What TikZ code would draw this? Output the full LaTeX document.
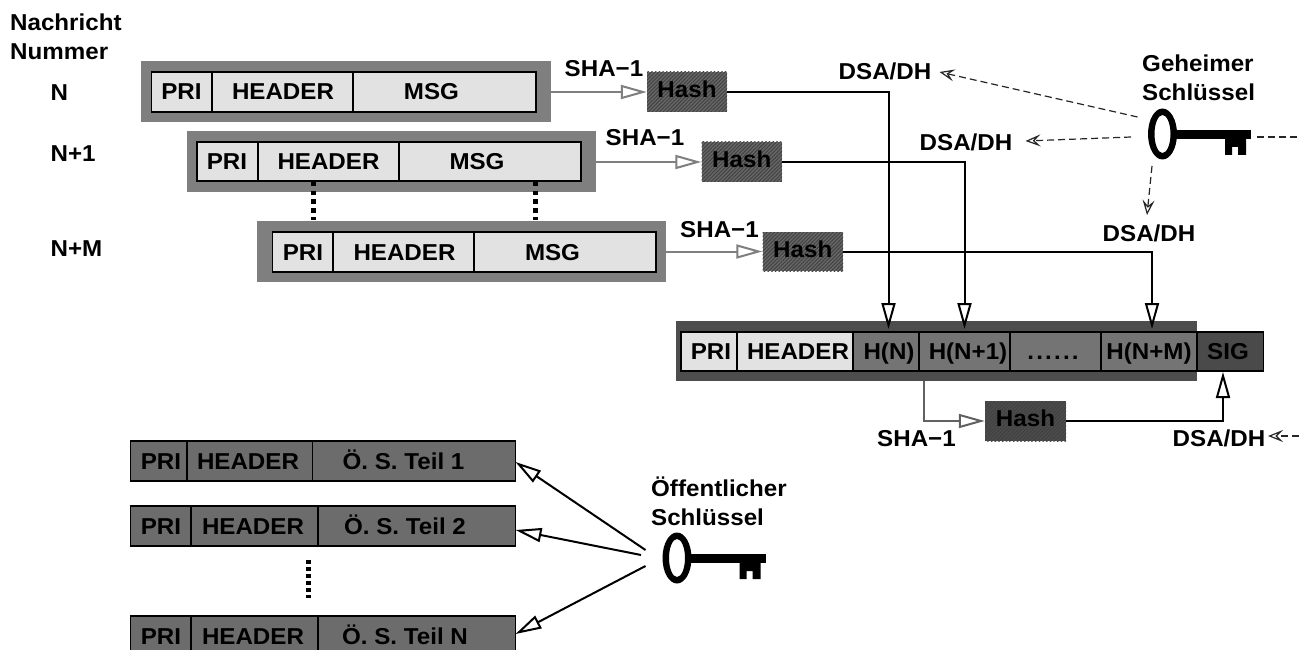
\documentclass[tikz,border=0pt]{standalone}
\usepackage{fontspec}
\setmainfont[FakeStretch=1.05]{Liberation Sans}
\usetikzlibrary{arrows.meta,patterns.meta}
\definecolor{lightcell}{HTML}{E2E2E2}
\definecolor{frameA}{HTML}{7F7F7F}
\definecolor{frameB}{HTML}{4D4D4D}
\definecolor{midcell}{HTML}{747474}
\definecolor{sigcell}{HTML}{4A4A4A}
\definecolor{pubcell}{HTML}{6C6C6C}
\tikzset{
  frame/.style={draw=none,inner sep=0pt},
  cellbox/.style={draw=black,line width=1.8pt,inner sep=0pt},
  txt/.style={inner sep=0pt,font=\fontsize{23}{23}\selectfont\bfseries,text=black},
  grayline/.style={draw=frameA,line width=2pt,-{Triangle[length=26pt,width=14pt,fill=white]}},
  grayline2/.style={draw=black!62,line width=2pt,-{Triangle[length=26pt,width=14pt,fill=white]}},
  blackline/.style={draw=black,line width=2pt,-{Triangle[length=26pt,width=14pt,fill=white]}},
  dashline/.style={draw=black!85,line width=1.2pt,dash pattern=on 7pt off 4pt,-{Stealth[length=15pt,width=12pt,inset=6pt,fill=white]}},
  dashplain/.style={draw=black!85,line width=1.2pt,dash pattern=on 7pt off 4pt},
  dotline/.style={draw=black,line width=5pt,dash pattern=on 4.5pt off 4.2pt},
  dotline2/.style={draw=black,line width=5pt,dash pattern=on 4pt off 3pt},
  hashbox/.style={draw=none,inner sep=0pt,fill=#1,postaction={pattern={Lines[angle=45,distance=2.6pt,line width=.9pt]},pattern color=black!75}},
}
% name, x1, x2, y1, y2, fill, text x, text
\newcommand{\cellnode}[8]{%
  \pgfmathsetmacro{\cw}{#3-#2}\pgfmathsetmacro{\ch}{#5-#4}%
  \pgfmathsetmacro{\cx}{(#2+#3)/2}\pgfmathsetmacro{\cy}{(#4+#5)/2}%
  \pgfmathsetmacro{\cb}{\cy+8}%
  \node[cellbox,fill=#6,minimum width=\cw pt,minimum height=\ch pt] (#1) at (\cx,\cy) {};
  \node[txt,anchor=base] (#1-t) at (#7,\cb) {#8};
}
\newcommand{\framenode}[6]{%
  \pgfmathsetmacro{\cw}{#3-#2}\pgfmathsetmacro{\ch}{#5-#4}%
  \pgfmathsetmacro{\cx}{(#2+#3)/2}\pgfmathsetmacro{\cy}{(#4+#5)/2}%
  \node[frame,fill=#6,minimum width=\cw pt,minimum height=\ch pt] (#1) at (\cx,\cy) {};
}
\newcommand{\hashnode}[6]{%
  \pgfmathsetmacro{\cw}{#3-#2}\pgfmathsetmacro{\ch}{#5-#4}%
  \pgfmathsetmacro{\cx}{(#2+#3)/2}\pgfmathsetmacro{\cy}{(#4+#5)/2}%
  \node[hashbox=#6,minimum width=\cw pt,minimum height=\ch pt] (#1) at (\cx,\cy) {};
  \pgfmathsetmacro{\cb}{\cy+5.5}%
  \node[txt,anchor=base] (#1-t) at (\cx,\cb) {Hash};
}
% name, x, y (cap centre), anchor, text
\newcommand{\lab}[5]{%
  \pgfmathsetmacro{\cb}{#3+8}%
  \node[txt,anchor=#4] (#1) at (#2,\cb) {#5};
}
\newcommand{\drawkey}[2]{%
  \begin{scope}[shift={(#1,#2)}]
    \fill[black,even odd rule] (1162.5,134) ellipse [x radius=14.5pt,y radius=25.5pt]
                                (1162.5,134) ellipse [x radius=8pt,y radius=19pt];
    \fill[black] (1175,130) rectangle (1251,139);
    \fill[black] (1225,139) -- (1246,139) -- (1246,155) -- (1238,155) -- (1238,147)
                 -- (1232,147) -- (1232,155) -- (1225,155) -- cycle;
  \end{scope}
}
\begin{document}
\begin{tikzpicture}[x=1pt,y=-1pt]
\useasboundingbox (0,0) rectangle (1299,650);
\clip (0,0) rectangle (1299,650);
\fill[white] (0,0) rectangle (1299,650);

% row labels
\lab{l1}{10}{23}{base west}{Nachricht}
\lab{l2}{10}{52}{base west}{Nummer}
\lab{ln}{50.5}{93}{base west}{N}
\lab{ln1}{50.5}{154}{base west}{N+1}
\lab{lnm}{50.5}{248}{base west}{N+M}

% message N
\framenode{fa}{141}{550.5}{61}{122}{frameA}
\cellnode{a1}{151.5}{212}{72}{112}{lightcell}{181.5}{PRI}
\cellnode{a2}{212}{353}{72}{112}{lightcell}{283}{HEADER}
\cellnode{a3}{353}{536}{72}{112}{lightcell}{431.5}{MSG}
% message N+1
\framenode{fb}{187}{596}{131}{192}{frameA}
\cellnode{b1}{197}{258}{142}{181}{lightcell}{227}{PRI}
\cellnode{b2}{258}{399}{142}{181}{lightcell}{328.5}{HEADER}
\cellnode{b3}{399}{581}{142}{181}{lightcell}{477}{MSG}
% message N+M
\framenode{fc}{257}{666}{221}{282}{frameA}
\cellnode{c1}{272.5}{333}{232}{272}{lightcell}{303}{PRI}
\cellnode{c2}{333}{474}{232}{272}{lightcell}{404.5}{HEADER}
\cellnode{c3}{474}{656}{232}{272}{lightcell}{552.5}{MSG}
% dotted joins
\coordinate (d1a) at (313,182); \coordinate (d1b) at (313,220);
\coordinate (d2a) at (535,182); \coordinate (d2b) at (535,220);
\draw[dotline] (d1a) -- (d1b);
\draw[dotline] (d2a) -- (d2b);

% hashes
\hashnode{h1}{647}{727}{72}{112}{black!60}
\hashnode{h2}{701.5}{782}{142}{182}{black!60}
\hashnode{h3}{762.5}{843}{232}{271}{black!60}
\hashnode{h4}{985}{1066}{401}{441}{black!70}

\lab{s1}{604}{69}{base}{SHA−1}
\lab{s2}{645}{138}{base}{SHA−1}
\lab{s3}{719.5}{229}{base}{SHA−1}
\lab{s4}{916.5}{438}{base}{SHA−1}

\draw[grayline] (fa.east |- h1.west) -- (h1.west);
\draw[grayline] (fb.east |- h2.west) -- (h2.west);
\draw[grayline] (fc.east |- h3.west) -- (h3.west);

% signed message
\framenode{fd}{676}{1197}{321}{381}{frameB}
\cellnode{e1}{681}{737}{332}{371}{lightcell}{711}{PRI}
\cellnode{e2}{737}{853}{332}{371}{lightcell}{798}{HEADER}
\cellnode{e3}{853}{919}{332}{371}{midcell}{889}{H(N)}
\cellnode{e4}{919}{1010}{332}{371}{midcell}{968}{H(N+1)}
\cellnode{e5}{1010}{1101}{332}{371}{midcell}{1053}{.\kern2.2pt.\kern2.2pt.\kern2.2pt.\kern2.2pt.\kern2.2pt.}
\cellnode{e6}{1101}{1197}{332}{371}{midcell}{1149}{H(N+M)}
\cellnode{e7}{1197}{1263.5}{332}{371}{sigcell}{1228}{SIG}

\coordinate (t1) at (888.5,329);
\coordinate (t2) at (964.5,329);
\coordinate (t3) at (1152,329);
\draw[blackline] (h1.east) -| (t1);
\draw[blackline] (h2.east) -| (t2);
\draw[blackline] (h3.east) -| (t3);

\coordinate (g0) at (924,381);
\draw[grayline2] (g0) |- (h4.west);
\coordinate (t4) at (1223,372);
\draw[blackline] (h4.east) -| (t4);

% DSA labels
\lab{dsa1}{885}{72}{base}{DSA/DH}
\lab{dsa2}{966}{143}{base}{DSA/DH}
\lab{dsa3}{1149}{233}{base}{DSA/DH}
\lab{dsa4}{1219}{438}{base}{DSA/DH}

% secret key
\drawkey{0}{0}
\lab{gk1}{1142}{64}{base west}{Geheimer}
\lab{gk2}{1142}{93}{base west}{Schlüssel}
\coordinate (k1) at (1137.5,117);
\coordinate (k2) at (1131,137);
\coordinate (k3) at (1152,166);
\coordinate (k4a) at (1257,137);
\coordinate (k4b) at (1299,137);
\coordinate (k5) at (1299,436);
\coordinate (a1t) at (939.5,72);
\coordinate (a2t) at (1025.5,141);
\coordinate (a3t) at (1147,215);
\coordinate (a5t) at (1268,436);
\draw[dashline] (k1) -- (a1t);
\draw[dashline] (k2) -- (a2t);
\draw[dashline] (k3) -- (a3t);
\draw[dashplain] (k4a) -- (k4b);
\draw[dashline] (k5) -- (a5t);

% public-key messages
\cellnode{p1}{130.5}{187}{441}{481}{pubcell}{161}{PRI}
\cellnode{p2}{187}{312.5}{441}{481}{pubcell}{248}{HEADER}
\cellnode{p3}{312.5}{515.5}{441}{481}{pubcell}{403.5}{Ö. S. Teil 1}
\cellnode{q1}{130.5}{191}{506}{546}{pubcell}{161}{PRI}
\cellnode{q2}{191}{318}{506}{546}{pubcell}{253}{HEADER}
\cellnode{q3}{318}{515.5}{506}{546}{pubcell}{405}{Ö. S. Teil 2}
\cellnode{r1}{130.5}{191}{616}{657}{pubcell}{161}{PRI}
\cellnode{r2}{191}{318}{616}{657}{pubcell}{253}{HEADER}
\cellnode{r3}{318}{515.5}{616}{657}{pubcell}{405}{Ö. S. Teil N}
\coordinate (v1) at (308,560); \coordinate (v2) at (308,598);
\draw[dotline2] (v1) -- (v2);

% public key
\drawkey{-485.5}{424}
\lab{pk1}{651}{488}{base west}{Öffentlicher}
\lab{pk2}{651}{517}{base west}{Schlüssel}
\coordinate (m1) at (645.5,550);
\coordinate (m2) at (641,555);
\coordinate (m3) at (645.5,566);
\coordinate (p3t) at (515.5,462);
\coordinate (q3t) at (515.5,530);
\coordinate (r3t) at (515.5,634);
\draw[blackline] (m1) -- (p3t);
\draw[blackline] (m2) -- (q3t);
\draw[blackline] (m3) -- (r3t);
\end{tikzpicture}
\end{document}
